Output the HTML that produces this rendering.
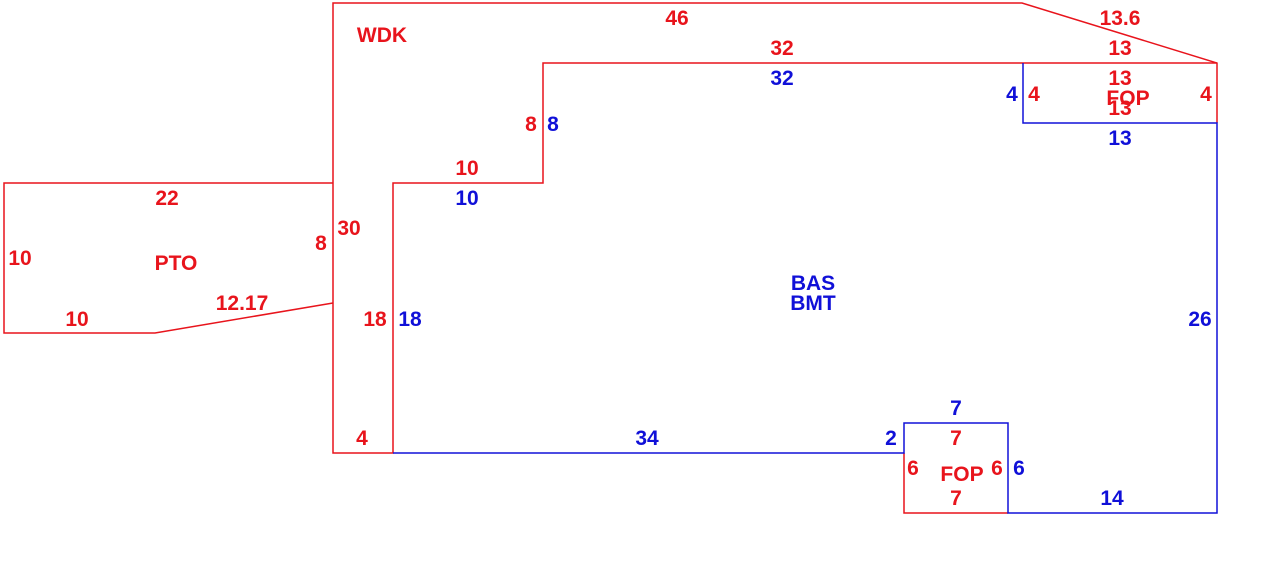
<!DOCTYPE html>
<html><head><style>
body{margin:0;background:#fff}
svg text{font-family:"Liberation Sans",Arial,sans-serif;font-weight:bold;font-size:21px;text-anchor:middle}
.r{fill:#e8141c}.b{fill:#1010d8}
</style></head><body>
<svg width="1265" height="560" xmlns="http://www.w3.org/2000/svg">
<g fill="none" stroke-width="1.5">
<polyline stroke="#e8141c" points="1023,63 543,63 543,183 393,183 393,453 333,453 333,3 1022,3 1217,63 1217,123"/>
<polyline stroke="#e8141c" points="1023,63 1217,63"/>
<polyline stroke="#e8141c" points="333,183 4,183 4,333 155,333 333,303"/>
<polyline stroke="#e8141c" points="904,453 904,513 1008,513"/>
<polyline stroke="#1010d8" points="393,453 904,453 904,423 1008,423 1008,513 1217,513 1217,123 1023,123 1023,63"/>
</g>
<text class="r" x="382" y="42">WDK</text>
<text class="r" x="677" y="25">46</text>
<text class="r" x="1120" y="25">13.6</text>
<text class="r" x="782" y="55">32</text>
<text class="b" x="782" y="85">32</text>
<text class="r" x="1120" y="55">13</text>
<text class="r" x="1120" y="85">13</text>
<text class="r" x="1128" y="105">FOP</text>
<text class="r" x="1120" y="115">13</text>
<text class="b" x="1120" y="145">13</text>
<text class="b" x="1012" y="101">4</text>
<text class="r" x="1034" y="101">4</text>
<text class="r" x="1206" y="101">4</text>
<text class="r" x="531" y="131">8</text>
<text class="b" x="553" y="131">8</text>
<text class="r" x="467" y="175">10</text>
<text class="b" x="467" y="205">10</text>
<text class="r" x="167" y="205">22</text>
<text class="r" x="321" y="250">8</text>
<text class="r" x="349" y="235">30</text>
<text class="r" x="20" y="265">10</text>
<text class="r" x="176" y="270">PTO</text>
<text class="r" x="77" y="326">10</text>
<text class="r" x="242" y="310">12.17</text>
<text class="r" x="375" y="326">18</text>
<text class="b" x="410" y="326">18</text>
<text class="b" x="813" y="290">BAS</text>
<text class="b" x="813" y="310">BMT</text>
<text class="b" x="1200" y="326">26</text>
<text class="r" x="362" y="445">4</text>
<text class="b" x="647" y="445">34</text>
<text class="b" x="891" y="445">2</text>
<text class="b" x="956" y="415">7</text>
<text class="r" x="956" y="445">7</text>
<text class="r" x="913" y="475">6</text>
<text class="r" x="962" y="481">FOP</text>
<text class="r" x="997" y="475">6</text>
<text class="b" x="1019" y="475">6</text>
<text class="r" x="956" y="505">7</text>
<text class="b" x="1112" y="505">14</text>
</svg>
</body></html>
